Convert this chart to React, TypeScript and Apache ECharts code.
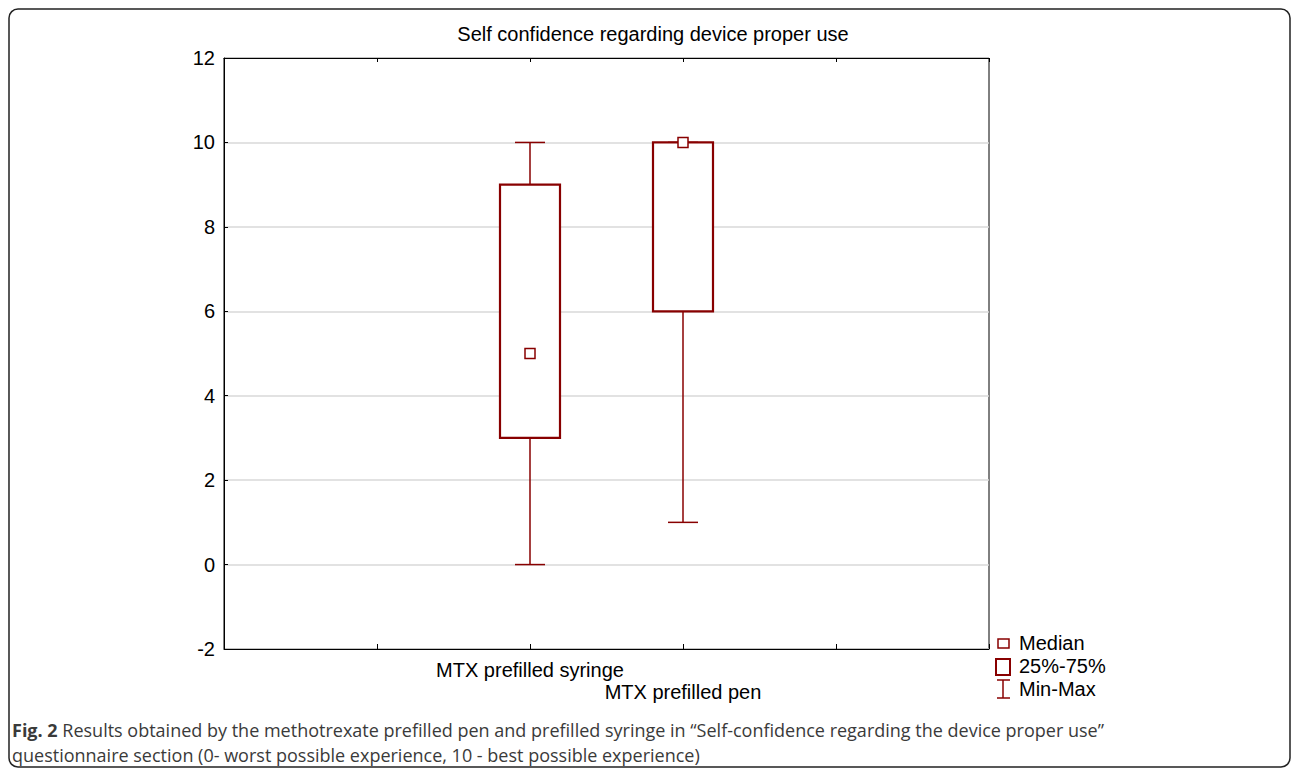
import React, { useEffect, useRef } from "react";
import * as echarts from "echarts";

const categories = ["MTX prefilled syringe", "MTX prefilled pen"];
const boxPositions = [2, 3];
const minValues = [0, 1];
const q1Values = [3, 6];
const medianValues = [5, 10];
const q3Values = [9, 10];
const maxValues = [10, 10];
const yTicks = [-2, 0, 2, 4, 6, 8, 10, 12];

const RED = "#880000";
const FONT = "'Liberation Sans', Arial, sans-serif";

export default function App() {
  const ref = useRef<HTMLDivElement>(null);
  useEffect(() => {
    if (!ref.current) return;
    const chart = echarts.init(ref.current, undefined, { renderer: "svg" });
    const boxData = boxPositions.map((p, i) => [
      p,
      minValues[i],
      q1Values[i],
      medianValues[i],
      q3Values[i],
      maxValues[i],
    ]);
    const medianData = boxPositions.map((p, i) => [p, medianValues[i]]);
    chart.setOption({
      animation: false,
      backgroundColor: "#fff",
      grid: {
        left: 224,
        top: 58,
        right: 303,
        bottom: 124,
        show: true,
        borderColor: "#000",
        borderWidth: 1,
        backgroundColor: "transparent",
      },
      xAxis: [
        {
          type: "value",
          min: 0,
          max: 5,
          interval: 1,
          axisLine: { show: true, onZero: false, lineStyle: { color: "#000", width: 1 } },
          axisTick: { show: true, inside: true, length: 5, lineStyle: { color: "#000" } },
          splitLine: { show: false },
          axisLabel: {
            margin: 10,
            color: "#000",
            fontFamily: FONT,
            fontSize: 20,
            lineHeight: 22,
            formatter: (v: number) => {
              const i = boxPositions.indexOf(v);
              if (i < 0) return "";
              return i % 2 === 1 ? "\n" + categories[i] : categories[i];
            },
          },
        },
        {
          type: "value",
          position: "top",
          min: 0,
          max: 5,
          interval: 1,
          axisLine: { show: true, onZero: false, lineStyle: { color: "#000", width: 1 } },
          axisTick: { show: true, inside: true, length: 4, lineStyle: { color: "#000" } },
          splitLine: { show: false },
          axisLabel: { show: false },
        },
      ],
      yAxis: {
        type: "value",
        min: yTicks[0],
        max: yTicks[yTicks.length - 1],
        interval: 2,
        axisLine: { show: true, onZero: false, lineStyle: { color: "#000", width: 1 } },
        axisTick: { show: true, inside: true, length: 4, lineStyle: { color: "#000" } },
        splitLine: { show: true, lineStyle: { color: "#d9d9d9", width: 1.5 } },
        axisLabel: { color: "#000", fontFamily: FONT, fontSize: 20, margin: 9 },
      },
      series: [
        {
          type: "custom",
          xAxisIndex: 0,
          yAxisIndex: 0,
          data: boxData,
          z: 2,
          renderItem: (params: any, api: any) => {
            const x = api.value(0);
            const pMin = api.coord([x, api.value(1)]);
            const pQ1 = api.coord([x, api.value(2)]);
            const pQ3 = api.coord([x, api.value(4)]);
            const pMax = api.coord([x, api.value(5)]);
            const cx = pMin[0];
            const hb = 30;
            const hc = 15;
            const lineStyle = { stroke: RED, lineWidth: 1.5, fill: null };
            return {
              type: "group",
              children: [
                { type: "line", shape: { x1: cx, y1: pQ1[1], x2: cx, y2: pMin[1] }, style: lineStyle },
                { type: "line", shape: { x1: cx - hc, y1: pMin[1], x2: cx + hc, y2: pMin[1] }, style: lineStyle },
                { type: "line", shape: { x1: cx, y1: pQ3[1], x2: cx, y2: pMax[1] }, style: lineStyle },
                { type: "line", shape: { x1: cx - hc, y1: pMax[1], x2: cx + hc, y2: pMax[1] }, style: lineStyle },
                {
                  type: "rect",
                  shape: { x: cx - hb, y: pQ3[1], width: hb * 2, height: pQ1[1] - pQ3[1] },
                  style: { stroke: RED, lineWidth: 2.2, fill: "#fff" },
                },
              ],
            };
          },
        },
        {
          type: "scatter",
          data: medianData,
          symbol: "rect",
          symbolSize: 10,
          z: 5,
          itemStyle: { color: "#fff", borderColor: RED, borderWidth: 1.5, opacity: 1 },
        },
      ],
      graphic: [
        {
          type: "rect",
          shape: { x: 9, y: 9, width: 1281, height: 758, r: 9 },
          style: { stroke: "#222", lineWidth: 1.5, fill: null },
          z: -1,
        },
        {
          type: "text",
          x: 653,
          y: 34,
          style: {
            text: "Self confidence regarding device proper use",
            font: `20px ${FONT}`,
            fill: "#000",
            align: "center",
            verticalAlign: "middle",
          },
        },
        {
          type: "rect",
          shape: { x: 998, y: 639, width: 11, height: 9 },
          style: { stroke: RED, lineWidth: 1.5, fill: "#fff" },
        },
        {
          type: "text",
          x: 1019,
          y: 643,
          style: { text: "Median", font: `20px ${FONT}`, fill: "#000", verticalAlign: "middle" },
        },
        {
          type: "rect",
          shape: { x: 996, y: 659, width: 14, height: 16 },
          style: { stroke: RED, lineWidth: 2, fill: "#fff" },
        },
        {
          type: "text",
          x: 1019,
          y: 666,
          style: { text: "25%-75%", font: `20px ${FONT}`, fill: "#000", verticalAlign: "middle" },
        },
        {
          type: "line",
          shape: { x1: 1003, y1: 680, x2: 1003, y2: 698 },
          style: { stroke: RED, lineWidth: 1.5 },
        },
        {
          type: "line",
          shape: { x1: 997, y1: 680, x2: 1010, y2: 680 },
          style: { stroke: RED, lineWidth: 1.5 },
        },
        {
          type: "line",
          shape: { x1: 997, y1: 698, x2: 1010, y2: 698 },
          style: { stroke: RED, lineWidth: 1.5 },
        },
        {
          type: "text",
          x: 1019,
          y: 689,
          style: { text: "Min-Max", font: `20px ${FONT}`, fill: "#000", verticalAlign: "middle" },
        },
        {
          type: "text",
          x: 12,
          y: 730,
          style: {
            text: "{b|Fig. 2} Results obtained by the methotrexate prefilled pen and prefilled syringe in \u201cSelf-confidence regarding the device proper use\u201d",
            font: "18px 'Open Sans', sans-serif",
            fill: "#3a3a3a",
            verticalAlign: "middle",
            rich: {
              b: { font: "bold 18px 'Open Sans', sans-serif", fill: "#3a3a3a" },
            },
          },
        },
        {
          type: "text",
          x: 12,
          y: 755,
          style: {
            text: "questionnaire section (0- worst possible experience, 10 - best possible experience)",
            font: "18px 'Open Sans', sans-serif",
            fill: "#3a3a3a",
            verticalAlign: "middle",
          },
        },
      ],
    });
    return () => chart.dispose();
  }, []);
  return (
    <div
      ref={ref}
      style={{ position: "fixed", left: 0, top: 0, width: 1292, height: 773, background: "#fff" }}
    />
  );
}
